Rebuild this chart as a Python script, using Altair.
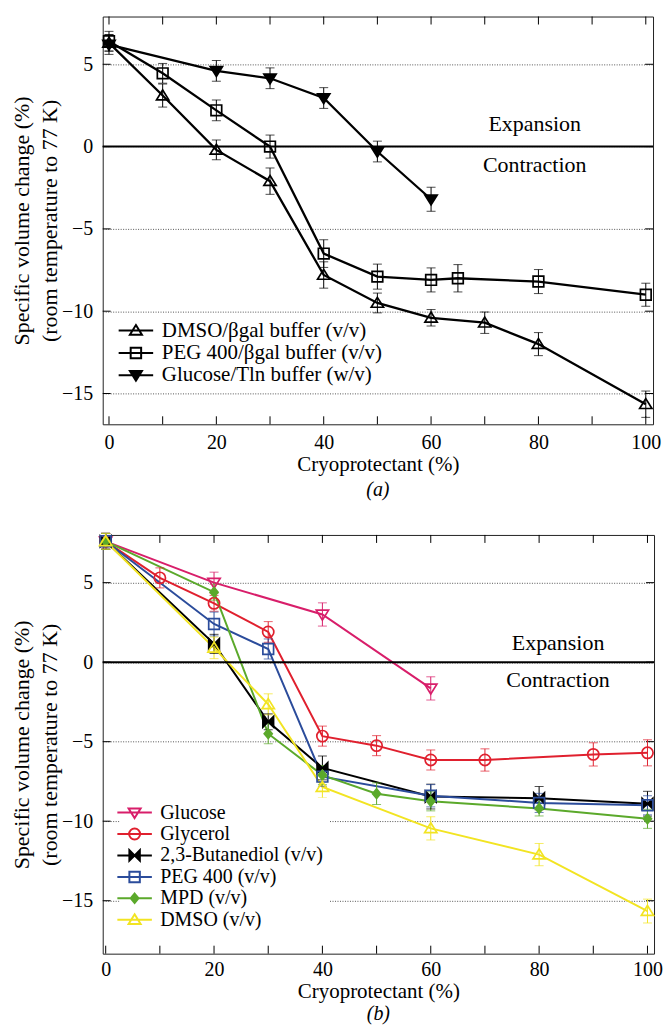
import altair as alt
import pandas as pd

FONT = "Liberation Serif"

# ---------------- Panel (a) data ----------------
A_NAMES = ["DMSO/βgal buffer (v/v)", "PEG 400/βgal buffer (v/v)", "Glucose/Tln buffer (w/v)"]
A_DMSO_X = [0, 10, 20, 30, 40, 50, 60, 70, 80, 100]
A_DMSO_Y = [6.3, 3.1, -0.2, -2.1, -7.8, -9.5, -10.4, -10.7, -12.0, -15.65]
A_DMSO_E = [0.5, 0.7, 0.6, 0.8, 0.8, 0.6, 0.5, 0.65, 0.7, 0.8]
A_PEG_X = [0, 10, 20, 30, 40, 50, 60, 65, 80, 100]
A_PEG_Y = [6.4, 4.45, 2.2, 0.0, -6.5, -7.9, -8.1, -8.0, -8.2, -9.0]
A_PEG_E = [0.6, 0.6, 0.63, 0.7, 0.84, 0.76, 0.73, 0.83, 0.73, 0.7]
A_GLC_X = [0, 20, 30, 40, 50, 60]
A_GLC_Y = [6.2, 4.6, 4.15, 2.95, -0.3, -3.2]
A_GLC_E = [0.6, 0.63, 0.63, 0.63, 0.63, 0.73]

# ---------------- Panel (b) data ----------------
B_NAMES = ["Glucose", "Glycerol", "2,3-Butanediol (v/v)", "PEG 400 (v/v)", "MPD (v/v)", "DMSO (v/v)"]
B_GLC_X = [0, 20, 40, 60]
B_GLC_Y = [7.6, 5.0, 3.0, -1.65]
B_GLC_E = [0.5, 0.66, 0.73, 0.73]
B_GLY_X = [0, 10, 20, 30, 40, 50, 60, 70, 90, 100]
B_GLY_Y = [7.6, 5.3, 3.7, 1.9, -4.65, -5.25, -6.15, -6.15, -5.8, -5.7]
B_GLY_E = [0.5, 0.63, 0.5, 0.65, 0.63, 0.63, 0.63, 0.7, 0.73, 0.82]
B_BUT_X = [0, 20, 30, 40, 60, 80, 100]
B_BUT_Y = [7.6, 1.15, -3.75, -6.65, -8.45, -8.55, -8.9]
B_BUT_E = [0.5, 0.6, 0.5, 0.75, 0.78, 0.73, 0.78]
B_PEG_X = [0, 20, 30, 40, 60, 80, 100]
B_PEG_Y = [7.6, 2.4, 0.83, -7.2, -8.4, -8.85, -9.0]
B_PEG_E = [0.5, 0.75, 0.63, 0.6, 0.7, 0.6, 0.6]
B_MPD_X = [0, 20, 30, 40, 50, 60, 80, 100]
B_MPD_Y = [7.6, 4.4, -4.5, -7.1, -8.27, -8.75, -9.2, -9.85]
B_MPD_E = [0.5, 0.5, 0.63, 0.6, 0.68, 0.6, 0.47, 0.6]
B_DMS_X = [0, 20, 30, 40, 60, 80, 100]
B_DMS_Y = [7.6, 0.9, -2.65, -7.85, -10.45, -12.1, -15.65]
B_DMS_E = [0.5, 0.68, 0.66, 0.68, 0.73, 0.7, 0.75]

# annotations
ANN_TEXT = ["Expansion", "Contraction"]
A_ANN_X = [79.3, 79.3]
A_ANN_Y = [1.4, -1.15]
B_ANN_X = [83.5, 83.5]
B_ANN_Y = [1.19, -1.12]

X_TICKS = [0, 10, 20, 30, 40, 50, 60, 70, 80, 90, 100]
X_LABELS = [0, 20, 40, 60, 80, 100]
Y_TICKS = [-15, -10, -5, 0, 5]

# marker paths (unit box)
TRI_UP = "M0,-1.05L1.15,0.8L-1.15,0.8Z"
TRI_DN = "M0,1.05L1.15,-0.8L-1.15,-0.8Z"
SQUARE = "M-1,-1H1V1H-1Z"
CIRCLE = "M1.05,0A1.05,1.05,0,1,1,-1.05,0A1.05,1.05,0,1,1,1.05,0Z"
DIAMOND = "M0,-0.9L0.75,0L0,0.9L-0.75,0Z"
BOWTIE = "M-1,-1L0,0L-1,1ZM1,-1L0,0L1,1Z"

TICK_LEN = 8


def with_line(p, L=3.3):
    return f"M{-L},0H{L}" + p


def make_df(names, xs, ys, es):
    rows = []
    for n, x, y, e in zip(names, xs, ys, es):
        for xi, yi, ei in zip(x, y, e):
            rows.append(dict(series=n, x=xi, y=yi, lo=yi - ei, hi=yi + ei))
    return pd.DataFrame(rows)


def panel(df, names, strokes, fills, shapes, ann_x, ann_y, xdom, ydom, w, h,
          leg, pads, sub, lw):
    lab_pad, title_pad, xl_pad, xt_pad, sub_off = pads
    xs = alt.Scale(domain=xdom, nice=False, zero=False)
    ys = alt.Scale(domain=ydom, nice=False, zero=False)

    def sc(rng):
        return alt.Scale(domain=names, range=rng)

    x_lab = alt.Axis(orient="bottom", title="Cryoprotectant (%)", values=X_LABELS,
                     ticks=False, tickSize=0, domain=False, grid=False,
                     labelPadding=xl_pad, titlePadding=xt_pad, titleFontSize=21)
    y_lab = alt.Axis(orient="left", title=["Specific volume  change (%)", "(room temperature to 77 K)"],
                     values=Y_TICKS, ticks=False, tickSize=0, domain=False,
                     labelPadding=lab_pad, titlePadding=title_pad, titleLineHeight=28,
                     grid=True, gridDash=[1, 1.5], gridColor="#555", gridWidth=1)

    base = alt.Chart(df)
    xt = alt.Chart(pd.DataFrame({"t": X_TICKS}))
    yt = alt.Chart(pd.DataFrame({"t": Y_TICKS}))
    tick_top = xt.mark_rule(color="black", strokeWidth=1).encode(
        x=alt.X("t:Q", scale=xs, axis=None), y=alt.value(0), y2=alt.value(TICK_LEN))
    tick_bot = xt.mark_rule(color="black", strokeWidth=1).encode(
        x=alt.X("t:Q", scale=xs, axis=None), y=alt.value(h - TICK_LEN), y2=alt.value(h))
    tick_left = yt.mark_rule(color="black", strokeWidth=1).encode(
        y=alt.Y("t:Q", scale=ys, axis=None), x=alt.value(0), x2=alt.value(TICK_LEN))
    tick_right = yt.mark_rule(color="black", strokeWidth=1).encode(
        y=alt.Y("t:Q", scale=ys, axis=None), x=alt.value(w - TICK_LEN), x2=alt.value(w))

    zero = alt.Chart(pd.DataFrame({"v": [0]})).mark_rule(color="black", strokeWidth=2).encode(
        y=alt.Y("v:Q", scale=ys, axis=None))
    lines = base.mark_line(strokeWidth=lw).encode(
        x=alt.X("x:Q", scale=xs, axis=x_lab),
        y=alt.Y("y:Q", scale=ys, axis=y_lab),
        stroke=alt.Stroke("series:N", scale=sc(strokes), legend=None),
        detail="series:N",
    )
    bars = base.mark_rule(strokeWidth=1).encode(
        x=alt.X("x:Q", scale=xs, axis=None),
        y=alt.Y("lo:Q", scale=ys, axis=None),
        y2="hi:Q",
        stroke=alt.Stroke("series:N", scale=sc(strokes), legend=None),
    )
    cap_lo = base.mark_tick(orient="horizontal", size=9, thickness=1).encode(
        x=alt.X("x:Q", scale=xs, axis=None),
        y=alt.Y("lo:Q", scale=ys, axis=None),
        color=alt.Color("series:N", scale=sc(strokes), legend=None),
    )
    cap_hi = base.mark_tick(orient="horizontal", size=9, thickness=1).encode(
        x=alt.X("x:Q", scale=xs, axis=None),
        y=alt.Y("hi:Q", scale=ys, axis=None),
        color=alt.Color("series:N", scale=sc(strokes), legend=None),
    )
    pts = base.mark_point(size=115, strokeWidth=1.7, opacity=1, filled=True).encode(
        x=alt.X("x:Q", scale=xs, axis=None),
        y=alt.Y("y:Q", scale=ys, axis=None),
        shape=alt.Shape("series:N", scale=sc(shapes), legend=None),
        stroke=alt.Stroke("series:N", scale=sc(strokes), legend=None),
        fill=alt.Fill("series:N", scale=sc(fills), legend=None),
    )
    ann = alt.Chart(pd.DataFrame({"x": ann_x, "y": ann_y, "t": ANN_TEXT})).mark_text(
        font=FONT, fontSize=22, align="center", baseline="middle", color="black").encode(
        x=alt.X("x:Q", scale=xs, axis=None),
        y=alt.Y("y:Q", scale=ys, axis=None),
        text="t:N",
    )
    legend = alt.Legend(**leg)
    leg_layer = base.mark_point(size=110, strokeWidth=2, opacity=1, filled=True).encode(
        x=alt.X("x:Q", scale=xs, axis=None),
        y=alt.Y("y:Q", scale=ys, axis=None),
        shape=alt.Shape("series:N", scale=sc([with_line(s) for s in shapes]), legend=legend),
        stroke=alt.Stroke("series:N", scale=sc(strokes), legend=legend),
        fill=alt.Fill("series:N", scale=sc(fills), legend=legend),
    ).transform_filter("false")

    return alt.layer(lines, zero, tick_top, tick_bot, tick_left, tick_right, bars, cap_lo, cap_hi,
                     pts, ann, leg_layer).resolve_scale(
        shape="independent", stroke="independent", fill="independent", color="independent"
    ).resolve_axis(x="independent", y="independent").resolve_legend(
        shape="independent", stroke="independent", fill="independent", color="independent"
    ).properties(
        width=w, height=h,
        title=alt.TitleParams(text=sub, orient="bottom", anchor="middle", frame="group",
                              font=FONT, fontSize=20, fontStyle="italic",
                              fontWeight="normal", color="black", offset=sub_off),
    )


df_a = make_df(A_NAMES, [A_DMSO_X, A_PEG_X, A_GLC_X], [A_DMSO_Y, A_PEG_Y, A_GLC_Y],
               [A_DMSO_E, A_PEG_E, A_GLC_E])
df_b = make_df(B_NAMES,
               [B_GLC_X, B_GLY_X, B_BUT_X, B_PEG_X, B_MPD_X, B_DMS_X],
               [B_GLC_Y, B_GLY_Y, B_BUT_Y, B_PEG_Y, B_MPD_Y, B_DMS_Y],
               [B_GLC_E, B_GLY_E, B_BUT_E, B_PEG_E, B_MPD_E, B_DMS_E])

leg_common = dict(orient="none", title=None, labelFont=FONT,
                  labelColor="black", labelLimit=400, symbolSize=110,
                  symbolStrokeWidth=2)

chart_a = panel(
    df_a, A_NAMES, ["black", "black", "black"], ["transparent", "transparent", "black"],
    [TRI_UP, SQUARE, TRI_DN], A_ANN_X, A_ANN_Y, [-1.17, 101.35], [-16.87, 7.9], 552, 409,
    dict(leg_common, legendX=22.8, legendY=304.5, labelOffset=15.5, padding=0, rowPadding=0.4,
         labelFontSize=21),
    (10, 0, 8, 1.5, 5), "(a)", 2.3)

chart_b = panel(
    df_b, B_NAMES,
    ["#D81E6A", "#E0202E", "#000000", "#2B4C9B", "#5BA92B", "#F2E422"],
    ["transparent", "transparent", "#000000", "transparent", "#5BA92B", "transparent"],
    [TRI_DN, CIRCLE, BOWTIE, SQUARE, DIAMOND, TRI_UP], B_ANN_X, B_ANN_Y,
    [-0.55, 101.21], [-18.33, 8.0], 553, 420,
    dict(leg_common, legendX=17, legendY=263.5, labelOffset=15.7, padding=5,
         rowPadding=1.5, fillColor="white", labelFontSize=20),
    (10, 0, 6, 1, 3), "(b)", 2.0)

chart = alt.vconcat(chart_a, chart_b, spacing=31).properties(
    padding={"left": 2, "top": 6, "right": 0, "bottom": 0}
).configure_view(stroke="#222", strokeWidth=1).configure_axis(
    labelFont=FONT, labelFontSize=20, labelColor="black",
    titleFont=FONT, titleFontSize=22, titleFontWeight="normal", titleColor="black",
).configure_legend(labelFont=FONT)

chart.save("out.html", embed_options={"renderer": "svg", "actions": False})
